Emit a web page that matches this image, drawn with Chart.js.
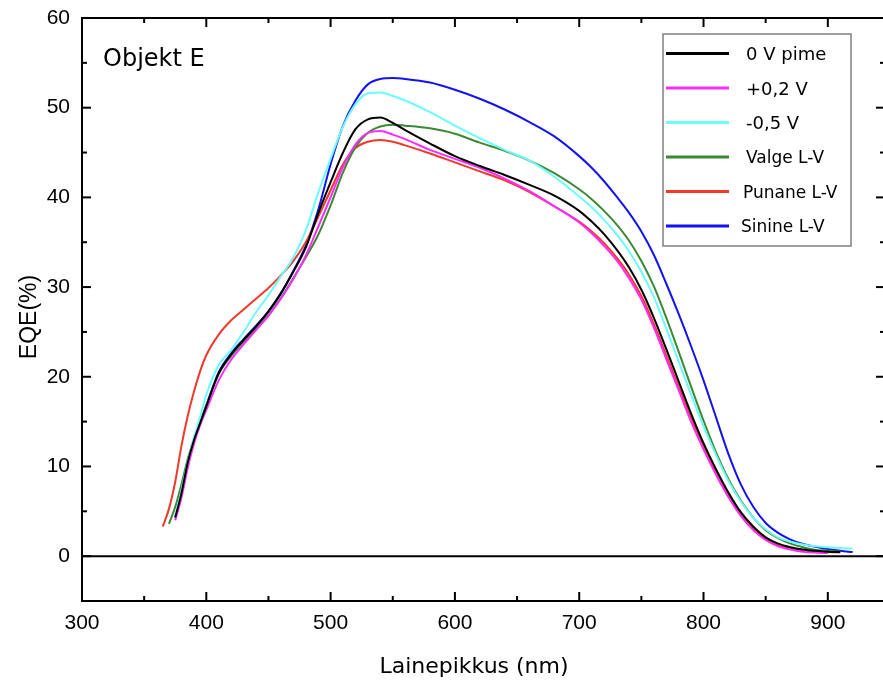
<!DOCTYPE html>
<html>
<head>
<meta charset="utf-8">
<script src="https://cdn.jsdelivr.net/npm/chart.js@4/dist/chart.umd.min.js"></script>
<style>
html,body{margin:0;padding:0;background:#fff;overflow:hidden;}
canvas{display:block;}
</style>
</head>
<body>
<canvas id="c" width="885" height="681"></canvas>
<script>
// ---- data ----
const wavelengths = [365,370,375,380,385,390,395,400,
  410,420,430,440,450,460,470,480,490,500,510,520,530,540,550,560,
  580,600,620,640,660,680,700,710,720,730,740,
  750,760,770,780,790,800,810,820,830,840,850,860,870,880,890,900,910,920];

const dark0V = [null,null,4.3,7.0,10.4,12.9,14.8,16.7,
  20.4,22.5,24.1,25.6,27.3,29.3,31.7,34.4,38.2,41.7,45.0,47.6,48.7,48.9,48.3,47.5,
  46.0,44.6,43.5,42.5,41.4,40.2,38.5,37.3,35.9,34.2,32.2,
  29.7,26.6,23.1,19.5,15.9,12.6,9.7,7.1,4.9,3.3,2.1,1.4,1.0,0.75,0.6,0.5,0.45,null];

const plus02V = [null,null,4.0,6.5,9.8,12.5,14.6,16.3,
  19.6,21.9,23.6,25.2,26.8,28.7,30.9,33.5,36.7,40.0,43.4,45.9,47.2,47.4,47.0,46.5,
  45.3,44.3,43.3,42.1,40.7,39.0,37.2,36.0,34.6,33.0,31.0,
  28.6,25.5,22.0,18.5,15.0,11.9,9.1,6.6,4.5,2.9,1.8,1.1,0.75,0.5,0.4,0.35,null,null];

const minus05V = [null,null,4.5,7.3,10.5,13.2,15.5,18.0,
  21.3,23.0,25.0,27.2,29.1,31.2,33.3,36.3,40.5,44.3,47.9,50.4,51.6,51.7,51.3,50.8,
  49.5,48.0,46.6,45.3,44.1,42.3,40.1,38.9,37.5,35.9,34.0,
  31.7,28.9,25.4,21.7,18.0,14.5,11.3,8.4,6.1,4.3,3.0,2.1,1.6,1.3,1.1,1.0,0.9,0.85];

const whiteLV = [null,3.6,5.5,8.0,10.8,13.0,14.9,16.8,
  20.3,22.3,23.9,25.3,26.9,28.8,31.0,33.3,35.8,39.1,42.8,45.6,47.2,47.9,48.1,48.0,
  47.7,47.1,46.1,45.2,44.1,42.7,40.9,39.8,38.5,37.0,35.2,
  32.9,30.1,26.6,22.8,18.9,15.1,11.6,8.6,6.2,4.3,2.9,2.0,1.4,1.0,0.7,0.6,0.5,null];

const redLV = [3.3,5.3,8.3,12.3,15.6,18.3,20.6,22.4,
  24.7,26.3,27.5,28.7,29.9,31.3,32.9,35.0,37.8,40.8,43.7,45.5,46.2,46.4,46.2,45.8,
  44.9,43.9,42.9,41.9,40.6,39.0,37.3,36.2,34.9,33.3,31.4,
  29.0,25.9,22.4,18.9,15.4,12.3,9.5,6.9,4.7,3.1,1.9,1.2,0.85,0.65,0.5,0.45,0.4,null];

const blueLV = [null,null,4.3,7.0,10.4,12.9,14.8,16.8,
  20.5,22.6,24.2,25.7,27.3,29.3,31.8,34.6,38.6,43.7,48.0,50.8,52.6,53.2,53.3,53.2,
  52.8,52.0,51.0,49.8,48.4,46.8,44.6,43.3,41.8,40.1,38.3,
  36.2,33.6,30.4,27.0,23.4,19.6,15.5,11.4,8.0,5.5,3.7,2.6,1.85,1.35,1.05,0.8,0.6,0.45];

const seriesNames = ['0 V pime','+0,2 V','-0,5 V','Valge L-V','Punane L-V','Sinine L-V'];
const seriesValues = [dark0V, plus02V, minus05V, whiteLV, redLV, blueLV];
const seriesColors = ['#000000','#ff2bff','#6cfcfc','#3b8a33','#f0392b','#1212f2'];

const xTicks = [300,400,500,600,700,800,900];
const yTicks = [0,10,20,30,40,50,60];

const xTitle = 'Lainepikkus (nm)';
const yTitle = 'EQE(%)';
const panelLabel = 'Objekt E';

// ---- chart ----
const datasets = seriesNames.map((name,i)=>({
  label: name,
  data: wavelengths.map((w,j)=>({x:w,y:seriesValues[i][j]})).filter(p=>p.y!==null),
  borderColor: seriesColors[i],
  backgroundColor: seriesColors[i],
  borderWidth: 2,
  pointRadius: 0,
  fill: false,
  cubicInterpolationMode: 'monotone'
}));

const tickFont = {family:'"Liberation Sans", Arial, sans-serif', size:21};

const overlay = {
  id:'overlay',
  afterDraw(chart){
    const {ctx, chartArea:a, scales:{x,y}} = chart;
    ctx.save();
    ctx.strokeStyle='#000';
    ctx.lineWidth=2;
    const L=(x1,y1,x2,y2)=>{ctx.beginPath();ctx.moveTo(x1,y1);ctx.lineTo(x2,y2);ctx.stroke();};
    ctx.strokeRect(a.left,a.top,a.right-a.left,a.bottom-a.top);
    const y0=y.getPixelForValue(0);
    L(a.left,y0,a.right,y0);
    for(let v=x.min; v<=x.max; v+=50){
      const len = (v%100===0)?9:5;
      const px=x.getPixelForValue(v);
      L(px,a.bottom,px,a.bottom-len);
      L(px,a.top,px,a.top+len);
    }
    for(let v=y.min; v<=y.max; v+=5){
      const len = (v%10===0)?9:5;
      const py=y.getPixelForValue(v);
      L(a.left,py,a.left+len,py);
      L(a.right,py,a.right-len,py);
    }
    ctx.fillStyle='#000';
    ctx.font='23px "Liberation Sans", Arial, sans-serif';
    ctx.textAlign='center';
    ctx.textBaseline='middle';
    ctx.save();
    ctx.translate(30,317);
    ctx.rotate(-Math.PI/2);
    ctx.fillText(yTitle,0,0);
    ctx.restore();
    ctx.font='22px "DejaVu Sans", Verdana, sans-serif';
    ctx.textBaseline='alphabetic';
    ctx.fillText(xTitle,474,673);
    ctx.textAlign='left';
    ctx.font='24px "DejaVu Sans", Verdana, sans-serif';
    ctx.fillText(panelLabel,103,66);
    ctx.strokeStyle='#808080';
    ctx.lineWidth=1.5;
    ctx.strokeRect(663,34,188,212);
    chart.data.datasets.forEach((ds,i)=>{
      const ly=53.5+i*34.5;
      ctx.strokeStyle=ds.borderColor;
      ctx.lineWidth=3;
      L(666,ly,729,ly);
      ctx.fillStyle='#000';
      ctx.font=(i<3?18:17)+'px "DejaVu Sans", Verdana, sans-serif';
      ctx.textBaseline='middle';
      ctx.fillText(ds.label, i<4?746:(i===4?743:741), ly+2);
    });
    ctx.restore();
  }
};

new Chart(document.getElementById('c'),{
  type:'line',
  data:{datasets},
  options:{
    responsive:false,
    animation:false,
    layout:{padding:{left:0,right:0,top:18,bottom:0}},
    plugins:{legend:{display:false},tooltip:{enabled:false}},
    scales:{
      x:{
        type:'linear',
        min:300,max:946,
        afterBuildTicks:s=>{s.ticks=xTicks.map(v=>({value:v}));},
        afterFit:s=>{s.height=80;s.paddingLeft=0;s.paddingRight=0;},
        grid:{display:false,drawTicks:false},
        border:{display:false},
        ticks:{font:tickFont,color:'#000',padding:10,maxRotation:0,autoSkip:false}
      },
      y:{
        type:'linear',
        min:-5,max:60,
        afterBuildTicks:s=>{s.ticks=yTicks.map(v=>({value:v}));},
        afterFit:s=>{s.width=82;s.paddingTop=0;s.paddingBottom=0;},
        grid:{display:false,drawTicks:false},
        border:{display:false},
        ticks:{font:tickFont,color:'#000',padding:12,autoSkip:false}
      }
    }
  },
  plugins:[overlay]
});
</script>
</body>
</html>
